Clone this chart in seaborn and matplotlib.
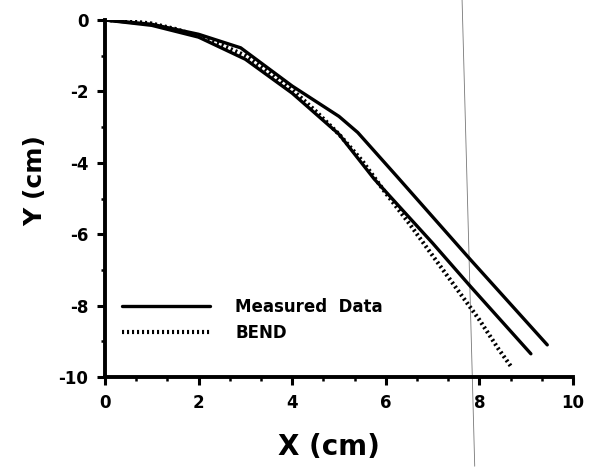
import numpy as np
import pandas as pd
import matplotlib
matplotlib.use("Agg")
import matplotlib.pyplot as plt
from matplotlib.ticker import AutoMinorLocator
import seaborn as sns

# ---- data ----
meas1_x = [0.0, 1.0, 2.0, 2.9, 4.0, 5.0, 5.4, 6.25, 7.8, 9.45]
meas1_y = [0.0, -0.12, -0.40, -0.78, -1.85, -2.70, -3.15, -4.40, -6.70, -9.10]

meas2_x = [0.0, 1.0, 2.0, 3.0, 4.0, 5.0, 5.75, 7.0, 7.8, 9.1]
meas2_y = [0.0, -0.15, -0.48, -1.10, -2.05, -3.20, -4.45, -6.25, -7.45, -9.35]

bend_x = [0.0, 0.5, 1.0, 1.5, 2.0, 2.5, 3.0, 3.5, 4.0, 4.5, 5.0, 5.5, 6.0, 6.5, 7.0, 7.5, 8.0, 8.4, 8.7]
bend_y = [0.0, -0.03, -0.10, -0.25, -0.45, -0.70, -1.00, -1.45, -1.95, -2.55, -3.20, -3.95, -4.85, -5.70, -6.60, -7.50, -8.40, -9.20, -9.75]

# faint vertical scan line visible in the reference (data coords)
scan_x = [7.63, 7.90]
scan_y = [0.56, -12.5]

x_ticks = [0, 2, 4, 6, 8, 10]
y_ticks = [0, -2, -4, -6, -8, -10]

sns.set_style("ticks")
plt.rcParams["font.family"] = ["DejaVu Sans"]
plt.rcParams["font.weight"] = "bold"
plt.rcParams["axes.unicode_minus"] = False
for k in ["text.color", "axes.labelcolor", "xtick.color", "ytick.color", "axes.edgecolor"]:
    plt.rcParams[k] = "black"

fig = plt.figure(figsize=(5.94, 4.67), dpi=100)
ax = fig.add_axes([105/594, 1-377/467, (573-105)/594, (377-20)/467])

df1 = pd.DataFrame({"x": meas1_x, "y": meas1_y})
df2 = pd.DataFrame({"x": meas2_x, "y": meas2_y})
df3 = pd.DataFrame({"x": bend_x, "y": bend_y})

sns.lineplot(data=df1, x="x", y="y", ax=ax, color="black", lw=2.4,
             sort=False, estimator=None, label="Measured  Data")
sns.lineplot(data=df2, x="x", y="y", ax=ax, color="black", lw=2.4,
             sort=False, estimator=None, label="_nolegend_")
sns.lineplot(data=df3, x="x", y="y", ax=ax, color="black", lw=3.0,
             sort=False, estimator=None, label="BEND",
             linestyle=(0, (0.5, 0.7)))

ax.plot(scan_x, scan_y, color="#777777", lw=0.6, clip_on=False, zorder=0)

ax.set_xlim(0, 10)
ax.set_ylim(-10, 0)
ax.set_xticks(x_ticks)
ax.set_yticks(y_ticks)
ax.set_xticklabels([str(v) for v in x_ticks], fontsize=12, fontweight="bold")
ax.set_yticklabels([str(v) for v in y_ticks], fontsize=12, fontweight="bold")
ax.xaxis.set_minor_locator(AutoMinorLocator(3))
ax.yaxis.set_minor_locator(AutoMinorLocator(2))
ax.tick_params(which="major", length=6, width=2.2, direction="out", pad=6, colors="black")
ax.tick_params(which="minor", length=3, width=1.8, direction="out", colors="black")

for s in ["top", "right"]:
    ax.spines[s].set_visible(False)
for s in ["left", "bottom"]:
    ax.spines[s].set_linewidth(2.8)
    ax.spines[s].set_color("black")

ax.set_xlabel("X (cm)", fontsize=20, fontweight="bold", color="black")
ax.xaxis.set_label_coords(0.479, -0.158)
ax.set_ylabel("Y (cm)", fontsize=18, fontweight="bold", color="black")
ax.yaxis.set_label_coords(-0.124, 0.549)

leg = ax.legend(loc="center left", bbox_to_anchor=(0.036, 0.16), frameon=False,
                handlelength=5.3, handletextpad=1.5, labelspacing=0.5,
                borderpad=0, borderaxespad=0,
                prop={"size": 12, "weight": "bold"})
for t in leg.get_texts():
    t.set_color("black")

fig.savefig("out.png", dpi=100)
